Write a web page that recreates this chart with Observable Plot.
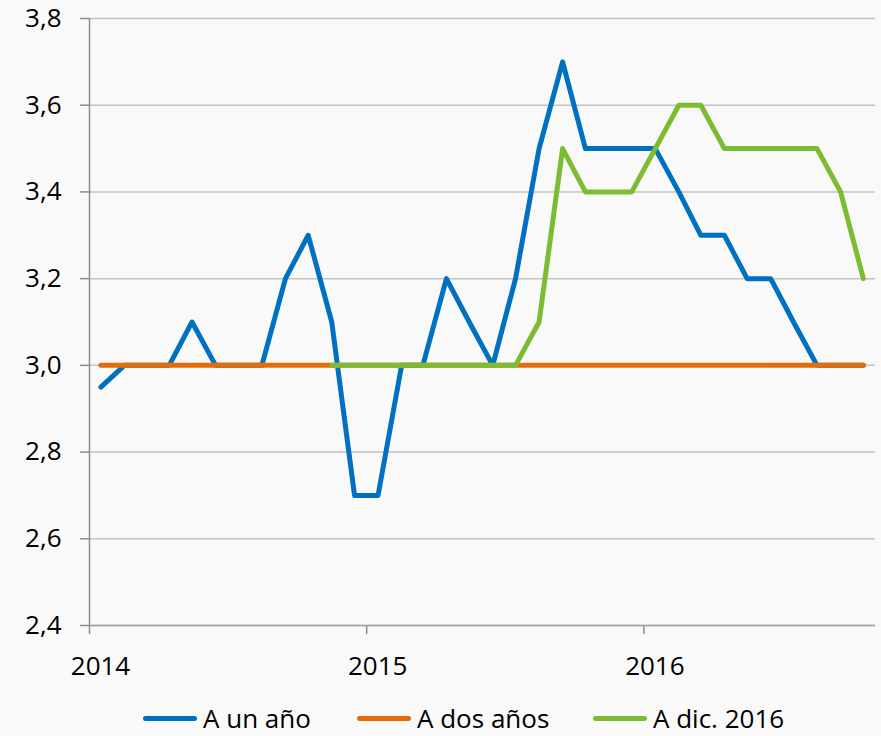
<!DOCTYPE html>
<html>
<head>
<meta charset="utf-8">
<script src="https://cdn.jsdelivr.net/npm/d3@7"></script>
<script src="https://cdn.jsdelivr.net/npm/@observablehq/plot@0.6"></script>
<style>
  html, body { margin: 0; padding: 0; background: #f9f9f9; }
  #wrap { position: relative; width: 881px; height: 736px; background: #f9f9f9; font-family: "Open Sans", sans-serif; }
  #chart svg { display: block; }
  .leg { position: absolute; top: 702px; height: 32px; display: flex; align-items: center; font-size: 26px; color: #000; white-space: nowrap; }
  .sw { width: 54px; height: 5px; border-radius: 3px; margin-right: 6px; }
</style>
</head>
<body>
<div id="wrap">
  <div id="chart"></div>
</div>
<script>
// Monthly observations, Jan 2014 – Oct 2016
const months = [
  "2014-01","2014-02","2014-03","2014-04","2014-05","2014-06","2014-07","2014-08","2014-09","2014-10","2014-11","2014-12",
  "2015-01","2015-02","2015-03","2015-04","2015-05","2015-06","2015-07","2015-08","2015-09","2015-10","2015-11","2015-12",
  "2016-01","2016-02","2016-03","2016-04","2016-05","2016-06","2016-07","2016-08","2016-09","2016-10"
];
const aUnAno = [
  2.95, 3.0, 3.0, 3.0, 3.1, 3.0, 3.0, 3.0, 3.2, 3.3, 3.1, 2.7,
  2.7, 3.0, 3.0, 3.2, 3.1, 3.0, 3.2, 3.5, 3.7, 3.5, 3.5, 3.5,
  3.5, 3.4, 3.3, 3.3, 3.2, 3.2, 3.1, 3.0, 3.0, 3.0
];
const aDosAnos = [
  3.0, 3.0, 3.0, 3.0, 3.0, 3.0, 3.0, 3.0, 3.0, 3.0, 3.0, 3.0,
  3.0, 3.0, 3.0, 3.0, 3.0, 3.0, 3.0, 3.0, 3.0, 3.0, 3.0, 3.0,
  3.0, 3.0, 3.0, 3.0, 3.0, 3.0, 3.0, 3.0, 3.0, 3.0
];
const aDic2016 = [
  null, null, null, null, null, null, null, null, null, null, 3.0, 3.0,
  3.0, 3.0, 3.0, 3.0, 3.0, 3.0, 3.0, 3.1, 3.5, 3.4, 3.4, 3.4,
  3.5, 3.6, 3.6, 3.5, 3.5, 3.5, 3.5, 3.5, 3.4, 3.2
];
const seriesNames = ["A un año", "A dos años", "A dic. 2016"];
const seriesColors = ["#0070c0", "#e46c0a", "#7cbc33"];
const yTicks = [2.4, 2.6, 2.8, 3.0, 3.2, 3.4, 3.6, 3.8];
const xTickLabels = ["2014", "2015", "2016"];

const parseMid = s => new Date(Date.UTC(+s.slice(0,4), +s.slice(5,7) - 1, 16));
const xTicks = xTickLabels.map(y => new Date(Date.UTC(+y, 0, 1)));

const valuesBySeries = [aUnAno, aDosAnos, aDic2016];
const data = [];
seriesNames.forEach((name, si) => {
  months.forEach((m, i) => {
    const v = valuesBySeries[si][i];
    if (v != null) data.push({series: name, date: parseMid(m), value: v});
  });
});

const fmtY = d => d.toFixed(1).replace(".", ",");

const plot = Plot.plot({
  width: 881,
  height: 690,
  marginLeft: 89,
  marginRight: 6,
  marginTop: 18,
  marginBottom: 65,
  style: {background: "#f9f9f9", fontFamily: "'Open Sans', sans-serif", fontSize: "26px", color: "#000", overflow: "visible"},
  x: {type: "utc", domain: [new Date(Date.UTC(2014,0,1)), new Date(Date.UTC(2016,10,1))]},
  y: {domain: [2.4, 3.8]},
  color: {domain: seriesNames, range: seriesColors},
  marks: [
    Plot.gridY(yTicks, {stroke: "#c3c3c3", strokeOpacity: 1, strokeWidth: 1.5}),
    Plot.axisY(yTicks, {tickFormat: fmtY, tickSize: 9, tickPadding: 19, stroke: "#8c8c8c", strokeWidth: 1.5, fill: "#000", fontSize: 26, label: null}),
    Plot.axisX(xTicks, {tickFormat: null, text: null, tickSize: 9, stroke: "#8c8c8c", strokeWidth: 1.5, label: null}),
    Plot.axisX(xTicks, {tickFormat: d => String(d.getUTCFullYear()), tickSize: 0, tickPadding: 31, dx: 11, fill: "#000", fontSize: 26, label: null}),
    Plot.ruleX([new Date(Date.UTC(2014,0,1))], {y1: 2.4, y2: 3.8, stroke: "#8c8c8c", strokeWidth: 1.5}),
    Plot.ruleY([2.4], {stroke: "#a0a0a0", strokeWidth: 1.5}),
    Plot.lineY(data, {x: "date", y: "value", z: "series", stroke: "series", strokeWidth: 5, strokeLinecap: "round", strokeLinejoin: "round"})
  ]
});
document.getElementById("chart").appendChild(plot);

// Legend
const legendLeft = [143, 357, 593];
const wrap = document.getElementById("wrap");
seriesNames.forEach((name, i) => {
  const item = document.createElement("div");
  item.className = "leg";
  item.style.left = legendLeft[i] + "px";
  const sw = document.createElement("div");
  sw.className = "sw";
  sw.style.background = seriesColors[i];
  const t = document.createElement("span");
  t.textContent = name;
  item.appendChild(sw);
  item.appendChild(t);
  wrap.appendChild(item);
});
</script>
</body>
</html>
